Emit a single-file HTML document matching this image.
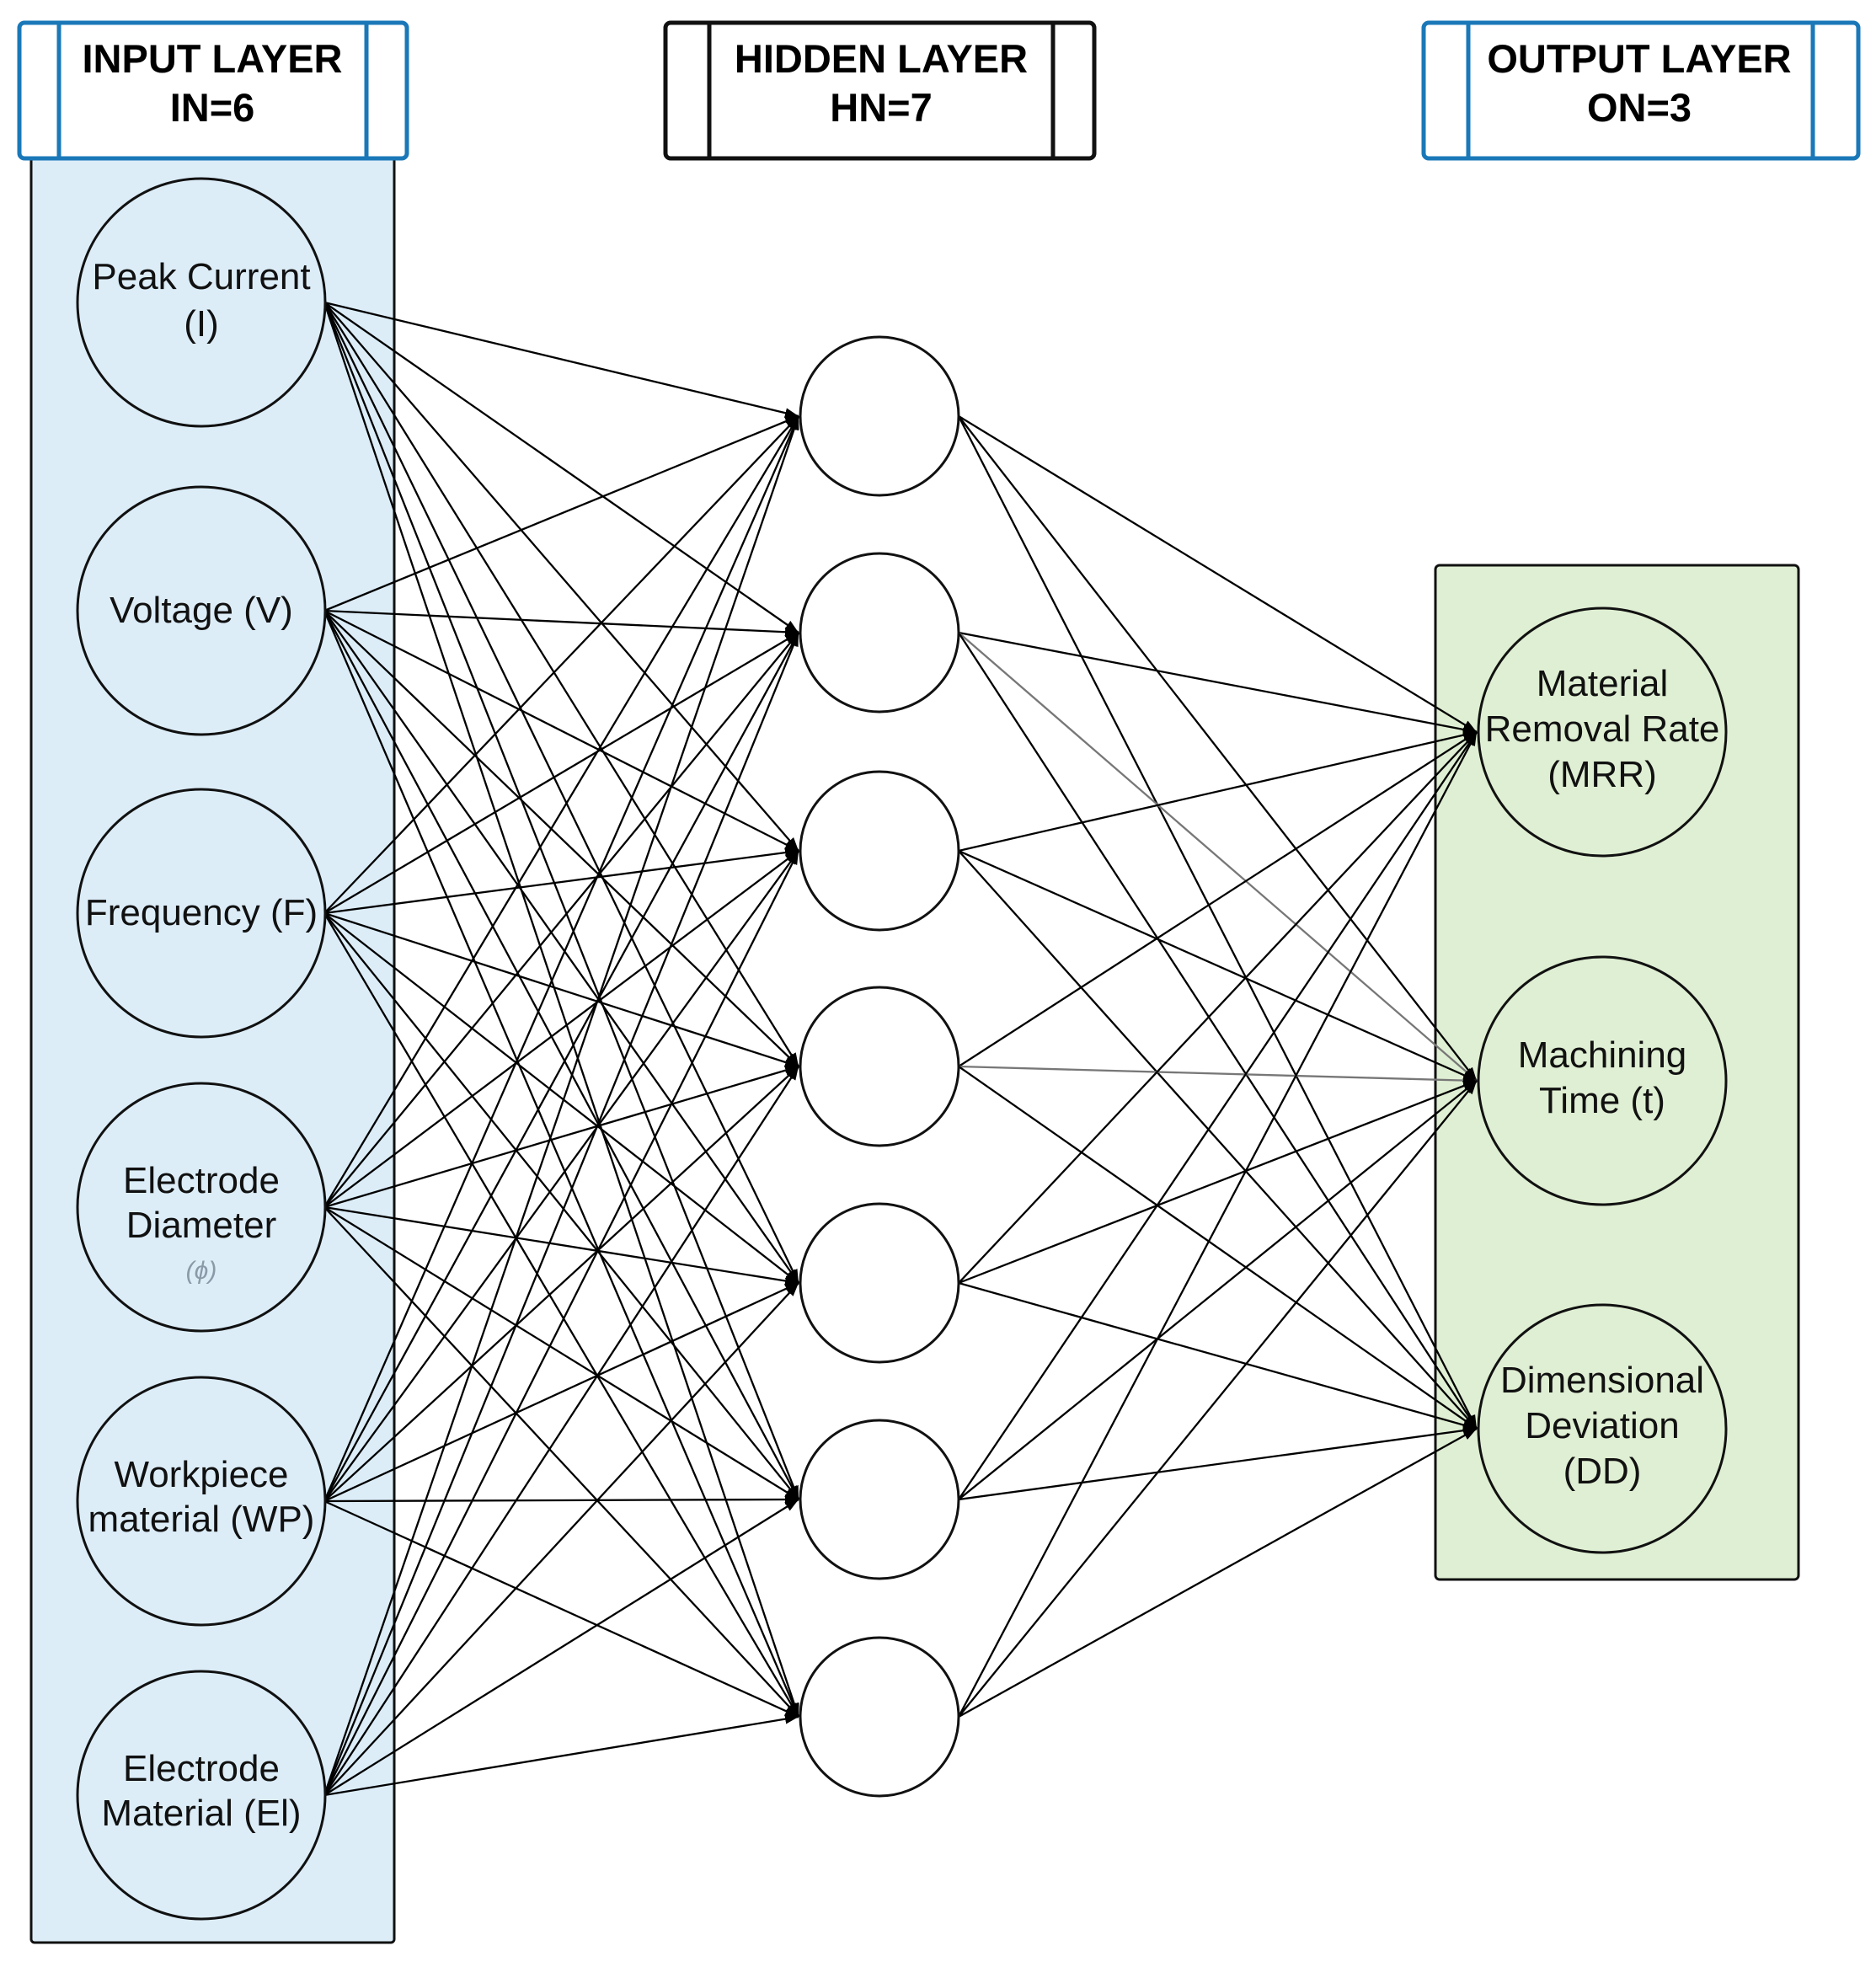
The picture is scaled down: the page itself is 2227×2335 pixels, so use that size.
<!DOCTYPE html>
<html><head><meta charset="utf-8"><style>
html,body{margin:0;padding:0;background:#fff;}
svg{display:block;}
text{font-family:"Liberation Sans",Arial,sans-serif;}
</style></head><body>
<svg width="2227" height="2335" viewBox="0 0 2227 2335" xmlns="http://www.w3.org/2000/svg">
<defs>
<marker id="a" markerUnits="userSpaceOnUse" markerWidth="18" markerHeight="16" refX="16" refY="8" orient="auto">
<path d="M0,2 L16,8 L0,14 Z" fill="#000"/>
</marker>
</defs>
<rect x="37" y="187" width="431" height="2119" rx="4" fill="#dcedf8" stroke="#111" stroke-width="3"/>
<rect x="1704" y="671" width="431" height="1204" rx="5" fill="#dfefd3" stroke="#111" stroke-width="3"/>
<rect x="23" y="27" width="460" height="161" rx="6" fill="#fff" stroke="#1a78b8" stroke-width="5"/>
<line x1="70" y1="27" x2="70" y2="188" stroke="#1a78b8" stroke-width="5"/>
<line x1="435" y1="27" x2="435" y2="188" stroke="#1a78b8" stroke-width="5"/>
<text x="252" y="86" font-size="47" font-weight="bold" text-anchor="middle">INPUT LAYER</text>
<text x="252" y="144" font-size="47" font-weight="bold" text-anchor="middle">IN=6</text>

<rect x="790" y="27" width="509" height="161" rx="6" fill="#fff" stroke="#111" stroke-width="5"/>
<line x1="842" y1="27" x2="842" y2="188" stroke="#111" stroke-width="5"/>
<line x1="1250" y1="27" x2="1250" y2="188" stroke="#111" stroke-width="5"/>
<text x="1046" y="86" font-size="47" font-weight="bold" text-anchor="middle">HIDDEN LAYER</text>
<text x="1046" y="144" font-size="47" font-weight="bold" text-anchor="middle">HN=7</text>

<rect x="1690" y="27" width="516" height="161" rx="6" fill="#fff" stroke="#1a78b8" stroke-width="5"/>
<line x1="1743" y1="27" x2="1743" y2="188" stroke="#1a78b8" stroke-width="5"/>
<line x1="2152" y1="27" x2="2152" y2="188" stroke="#1a78b8" stroke-width="5"/>
<text x="1946" y="86" font-size="47" font-weight="bold" text-anchor="middle">OUTPUT LAYER</text>
<text x="1946" y="144" font-size="47" font-weight="bold" text-anchor="middle">ON=3</text>

<g stroke="#000" stroke-width="2.3" marker-end="url(#a)" fill="none">
<line x1="385" y1="359" x2="948" y2="494"/><line x1="385" y1="359" x2="948" y2="751"/><line x1="385" y1="359" x2="948" y2="1010"/><line x1="385" y1="359" x2="948" y2="1266"/><line x1="385" y1="359" x2="948" y2="1523"/><line x1="385" y1="359" x2="948" y2="1780"/><line x1="385" y1="359" x2="948" y2="2038"/>
<line x1="385" y1="725" x2="948" y2="494"/><line x1="385" y1="725" x2="948" y2="751"/><line x1="385" y1="725" x2="948" y2="1010"/><line x1="385" y1="725" x2="948" y2="1266"/><line x1="385" y1="725" x2="948" y2="1523"/><line x1="385" y1="725" x2="948" y2="1780"/><line x1="385" y1="725" x2="948" y2="2038"/>
<line x1="385" y1="1084" x2="948" y2="494"/><line x1="385" y1="1084" x2="948" y2="751"/><line x1="385" y1="1084" x2="948" y2="1010"/><line x1="385" y1="1084" x2="948" y2="1266"/><line x1="385" y1="1084" x2="948" y2="1523"/><line x1="385" y1="1084" x2="948" y2="1780"/><line x1="385" y1="1084" x2="948" y2="2038"/>
<line x1="385" y1="1433" x2="948" y2="494"/><line x1="385" y1="1433" x2="948" y2="751"/><line x1="385" y1="1433" x2="948" y2="1010"/><line x1="385" y1="1433" x2="948" y2="1266"/><line x1="385" y1="1433" x2="948" y2="1523"/><line x1="385" y1="1433" x2="948" y2="1780"/><line x1="385" y1="1433" x2="948" y2="2038"/>
<line x1="385" y1="1782" x2="948" y2="494"/><line x1="385" y1="1782" x2="948" y2="751"/><line x1="385" y1="1782" x2="948" y2="1010"/><line x1="385" y1="1782" x2="948" y2="1266"/><line x1="385" y1="1782" x2="948" y2="1523"/><line x1="385" y1="1782" x2="948" y2="1780"/><line x1="385" y1="1782" x2="948" y2="2038"/>
<line x1="385" y1="2131" x2="948" y2="494"/><line x1="385" y1="2131" x2="948" y2="751"/><line x1="385" y1="2131" x2="948" y2="1010"/><line x1="385" y1="2131" x2="948" y2="1266"/><line x1="385" y1="2131" x2="948" y2="1523"/><line x1="385" y1="2131" x2="948" y2="1780"/><line x1="385" y1="2131" x2="948" y2="2038"/>
</g>
<g stroke="#000" stroke-width="2.3" marker-end="url(#a)" fill="none">
<line x1="1138" y1="494" x2="1753" y2="869"/><line x1="1138" y1="494" x2="1753" y2="1283"/><line x1="1138" y1="494" x2="1753" y2="1696"/>
<line x1="1138" y1="751" x2="1753" y2="869"/><line x1="1138" y1="751" x2="1753" y2="1283" stroke="#777"/><line x1="1138" y1="751" x2="1753" y2="1696"/>
<line x1="1138" y1="1010" x2="1753" y2="869"/><line x1="1138" y1="1010" x2="1753" y2="1283"/><line x1="1138" y1="1010" x2="1753" y2="1696"/>
<line x1="1138" y1="1266" x2="1753" y2="869"/><line x1="1138" y1="1266" x2="1753" y2="1283" stroke="#777"/><line x1="1138" y1="1266" x2="1753" y2="1696"/>
<line x1="1138" y1="1523" x2="1753" y2="869"/><line x1="1138" y1="1523" x2="1753" y2="1283"/><line x1="1138" y1="1523" x2="1753" y2="1696"/>
<line x1="1138" y1="1780" x2="1753" y2="869"/><line x1="1138" y1="1780" x2="1753" y2="1283"/><line x1="1138" y1="1780" x2="1753" y2="1696"/>
<line x1="1138" y1="2038" x2="1753" y2="869"/><line x1="1138" y1="2038" x2="1753" y2="1283"/><line x1="1138" y1="2038" x2="1753" y2="1696"/>
</g>

<g fill="#dcedf8" stroke="#111" stroke-width="3">
<circle cx="239" cy="359" r="147"/><circle cx="239" cy="725" r="147"/><circle cx="239" cy="1084" r="147"/>
<circle cx="239" cy="1433" r="147"/><circle cx="239" cy="1782" r="147"/><circle cx="239" cy="2131" r="147"/>
</g>
<g font-size="44" text-anchor="middle" fill="#111">
<text x="239" y="343">Peak Current</text><text x="239" y="399">(I)</text>
<text x="239" y="739">Voltage (V)</text>
<text x="239" y="1098">Frequency (F)</text>
<text x="239" y="1416">Electrode</text><text x="239" y="1469">Diameter</text>
<text x="239" y="1765">Workpiece</text><text x="239" y="1818">material (WP)</text>
<text x="239" y="2114">Electrode</text><text x="239" y="2167">Material (El)</text>
</g>
<text x="239" y="1518" font-size="30" text-anchor="middle" fill="#8a9aa6" font-family="Liberation Serif,serif" font-style="italic">(ϕ)</text>

<g fill="#fff" stroke="#111" stroke-width="3">
<circle cx="1044" cy="494" r="94"/><circle cx="1044" cy="751" r="94"/><circle cx="1044" cy="1010" r="94"/>
<circle cx="1044" cy="1266" r="94"/><circle cx="1044" cy="1523" r="94"/><circle cx="1044" cy="1780" r="94"/>
<circle cx="1044" cy="2038" r="94"/>
</g>

<g fill="#dfefd3" stroke="#111" stroke-width="3">
<circle cx="1902" cy="869" r="147"/><circle cx="1902" cy="1283" r="147"/><circle cx="1902" cy="1696" r="147"/>
</g>
<g font-size="44" text-anchor="middle" fill="#111">
<text x="1902" y="826">Material</text><text x="1902" y="880">Removal Rate</text><text x="1902" y="934">(MRR)</text>
<text x="1902" y="1267">Machining</text><text x="1902" y="1321">Time (t)</text>
<text x="1902" y="1653">Dimensional</text><text x="1902" y="1707">Deviation</text><text x="1902" y="1761">(DD)</text>
</g>
</svg>
</body></html>
